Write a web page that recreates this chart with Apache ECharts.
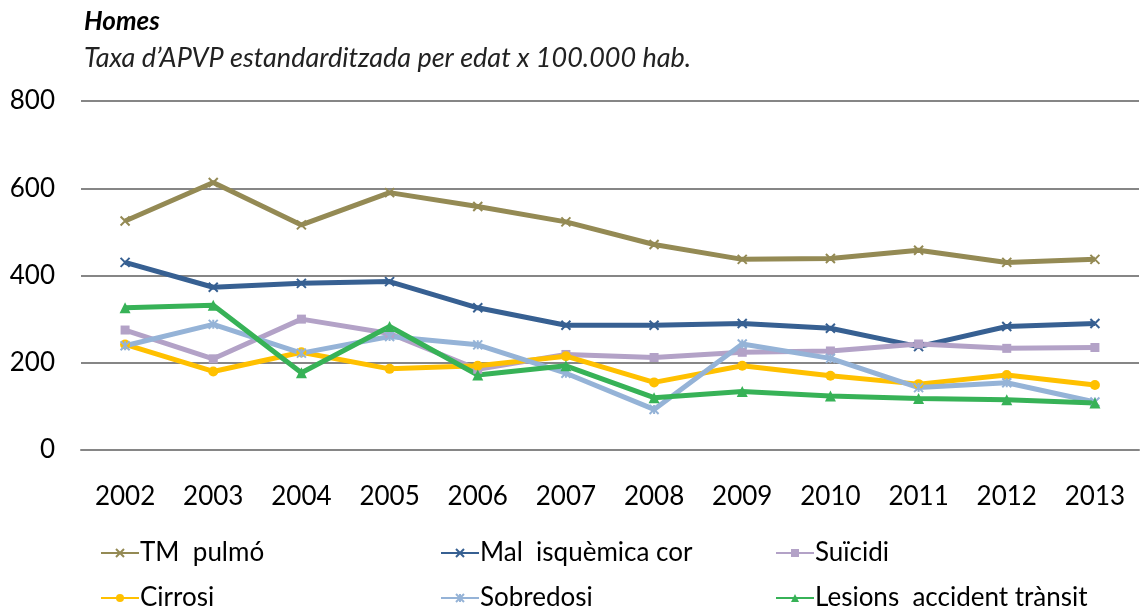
<!DOCTYPE html>
<html>
<head>
<meta charset="utf-8">
<script src="https://cdn.jsdelivr.net/npm/echarts@6/dist/echarts.min.js"></script>
<style>
html,body{margin:0;padding:0;background:#fff;}
#mainChart{width:1143px;height:613px;}
</style>
</head>
<body>
<div id="mainChart"></div>
<script>
var years = ['2002','2003','2004','2005','2006','2007','2008','2009','2010','2011','2012','2013'];
var yTicks = [0, 200, 400, 600, 800];
var tmPulmo = [525, 613, 516, 590, 558, 523, 471, 437, 439, 458, 430, 437];
var malIsquemica = [430, 373, 382, 386, 326, 286, 286, 290, 279, 237, 283, 290];
var suicidi = [275, 209, 300, 267, 185, 219, 212, 224, 227, 243, 233, 235];
var cirrosi = [242, 180, 224, 186, 193, 215, 155, 193, 170, 151, 172, 149];
var sobredosi = [239, 288, 222, 260, 241, 176, 93, 243, 210, 143, 154, 110];
var lesions = [326, 332, 177, 283, 172, 193, 120, 134, 124, 118, 115, 108];

var font = 'Lato, "Open Sans", sans-serif';
var cross = 'path://M0,0L10,10M10,0L0,10';
var star = 'path://M0,0L10,10M10,0L0,10M5,0L5,10';

function mkSeries(name, data, color, symbol, size) {
	return {
		name: name,
		type: 'line',
		data: data,
		smooth: false,
		symbol: symbol,
		symbolSize: size,
		lineStyle: { color: color, width: 5 },
		itemStyle: { color: color, borderColor: color, borderWidth: (symbol.indexOf('path') === 0 ? 2 : 0) },
		z: 2
	};
}

// one legend per entry so the 3x2 layout stays fixed
function mkLegend(name, left, top) {
	return {
		data: [name],
		left: left,
		top: top,
		padding: 0,
		itemWidth: 38,
		itemHeight: 10,
		textStyle: { fontFamily: font, fontSize: 26, color: '#000', padding: [0, 0, 0, -4] }
	};
}

var dom = document.getElementById('mainChart');
var myChart = echarts.init(dom);
var option = {
	backgroundColor: '#fff',
	animation: false,
	title: [{
		text: 'Homes',
		left: 79, top: 4,
		textStyle: { fontFamily: font, fontSize: 26, fontWeight: 'bold', fontStyle: 'italic', color: '#000' }
	}, {
		text: 'Taxa d\u2019APVP estandarditzada per edat x 100.000 hab.',
		left: 79, top: 40,
		textStyle: { fontFamily: font, fontSize: 27, fontWeight: 'normal', fontStyle: 'italic', color: '#222' }
	}],
	legend: [
		mkLegend('TM  pulmó', 100, 540),
		mkLegend('Mal  isquèmica cor', 440, 540),
		mkLegend('Suïcidi', 775, 540),
		mkLegend('Cirrosi', 100, 585),
		mkLegend('Sobredosi', 440, 585),
		mkLegend('Lesions  accident trànsit', 775, 585)
	],
	grid: { left: 81, right: 4, top: 101, bottom: 163, containLabel: false },
	xAxis: {
		type: 'category',
		data: years,
		boundaryGap: true,
		axisLine: { lineStyle: { color: '#868686', width: 2 } },
		axisTick: { show: false },
		axisLabel: { fontFamily: font, fontSize: 26, color: '#000', margin: 34 }
	},
	yAxis: {
		type: 'value',
		min: yTicks[0],
		max: yTicks[yTicks.length - 1],
		interval: 200,
		axisLine: { show: false },
		axisTick: { show: false },
		axisLabel: { fontFamily: font, fontSize: 26, color: '#000', margin: 26 },
		splitLine: { lineStyle: { color: '#868686', width: 2 } }
	},
	series: [
		mkSeries('TM  pulmó', tmPulmo, '#948A54', cross, 9),
		mkSeries('Mal  isquèmica cor', malIsquemica, '#376092', cross, 9),
		mkSeries('Suïcidi', suicidi, '#B3A2C7', 'rect', 9),
		mkSeries('Cirrosi', cirrosi, '#FFC000', 'circle', 10),
		mkSeries('Sobredosi', sobredosi, '#95B3D7', star, 9),
		mkSeries('Lesions  accident trànsit', lesions, '#37B257', 'triangle', 11)
	]
};
myChart.setOption(option, true);
</script>
</body>
</html>
